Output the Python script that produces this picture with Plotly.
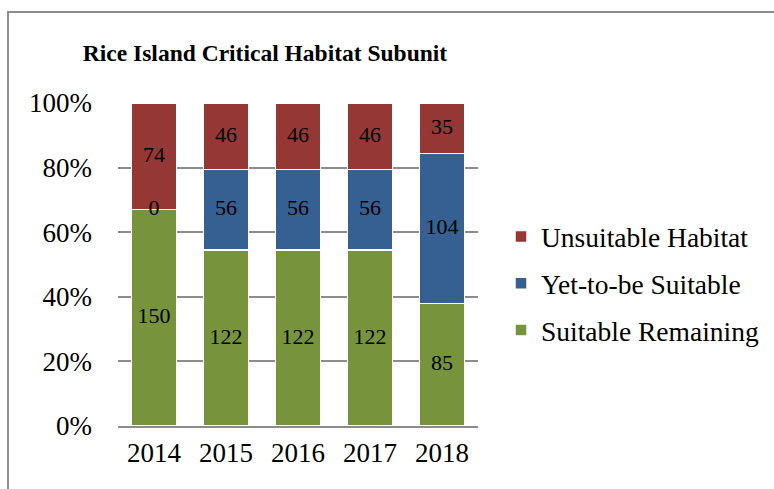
import plotly.graph_objects as go

years = ["2014", "2015", "2016", "2017", "2018"]
suitable_remaining = [150, 122, 122, 122, 85]
yet_to_be_suitable = [0, 56, 56, 56, 104]
unsuitable_habitat = [74, 46, 46, 46, 35]

series = [
    ("Suitable Remaining", suitable_remaining, "#77933C"),
    ("Yet-to-be Suitable", yet_to_be_suitable, "#366092"),
    ("Unsuitable Habitat", unsuitable_habitat, "#953735"),
]

FONT = "Liberation Serif"
W, H = 774, 489
L, R, T, B = 118, 478, 103, 426  # plot area in pixels

totals = [sum(v) for v in zip(*[s[1] for s in series])]

fig = go.Figure()
base = [0.0] * len(years)
label_x, label_y, label_t = [], [], []
for k, (name, vals, col) in enumerate(series):
    pct = [100.0 * v / t for v, t in zip(vals, totals)]
    fig.add_trace(go.Bar(
        x=years, y=pct, name=name,
        marker=dict(color=col, line=dict(color="white", width=1.5)),
        legendgroup=name, legendrank=1000 - k, hoverinfo="skip",
    ))
    for i, (p, v) in enumerate(zip(pct, vals)):
        label_x.append(years[i])
        label_y.append(base[i] + p / 2)
        label_t.append(str(v))
        base[i] += p

fig.add_trace(go.Scatter(
    x=label_x, y=label_y, text=label_t, mode="text",
    textposition="middle center",
    textfont=dict(family=FONT, size=22, color="black"),
    showlegend=False, cliponaxis=False, hoverinfo="skip",
))

def px_x(p):
    return (p - L) / (R - L)

def px_y(p):
    return (B - p) / (B - T)

fig.update_layout(
    width=W, height=H,
    barmode="stack", bargap=0.38,
    margin=dict(l=L, r=W - R, t=T, b=H - B, autoexpand=False),
    paper_bgcolor="white", plot_bgcolor="white",
    font=dict(family=FONT, color="black"),
    title=dict(text="<b>Rice Island Critical Habitat Subunit</b>",
               font=dict(family=FONT, size=23.5, color="black"),
               x=265 / W, xanchor="center", y=1 - 53 / H, yanchor="middle",
               xref="container", yref="container"),
    legend=dict(x=px_x(501), xanchor="left", y=px_y(283.5), yanchor="middle",
                traceorder="grouped", tracegroupgap=8,
                font=dict(family=FONT, size=27.5, color="black"),
                bgcolor="rgba(0,0,0,0)"),
    xaxis=dict(showgrid=False, showline=True, linecolor="#8c8c8c", linewidth=2,
               tickfont=dict(family=FONT, size=27), ticks="", ticklabelstandoff=2),
    yaxis=dict(range=[0, 100], tickvals=[0, 20, 40, 60, 80, 100],
               ticktext=["0%", "20%", "40%", "60%", "80%", "100%"],
               showgrid=True, gridcolor="#8c8c8c", gridwidth=2, zeroline=False,
               showline=False, ticks="", ticklabelstandoff=25,
               tickfont=dict(family=FONT, size=27)),
    shapes=[dict(type="rect", xref="paper", yref="paper",
                 x0=px_x(8), x1=px_x(800), y0=px_y(520), y1=px_y(12),
                 line=dict(color="#8c8c8c", width=2), fillcolor="rgba(0,0,0,0)",
                 layer="below")],
)

fig.write_html("out.html", config={"displayModeBar": False},
               post_script="document.body.style.margin='0';")
